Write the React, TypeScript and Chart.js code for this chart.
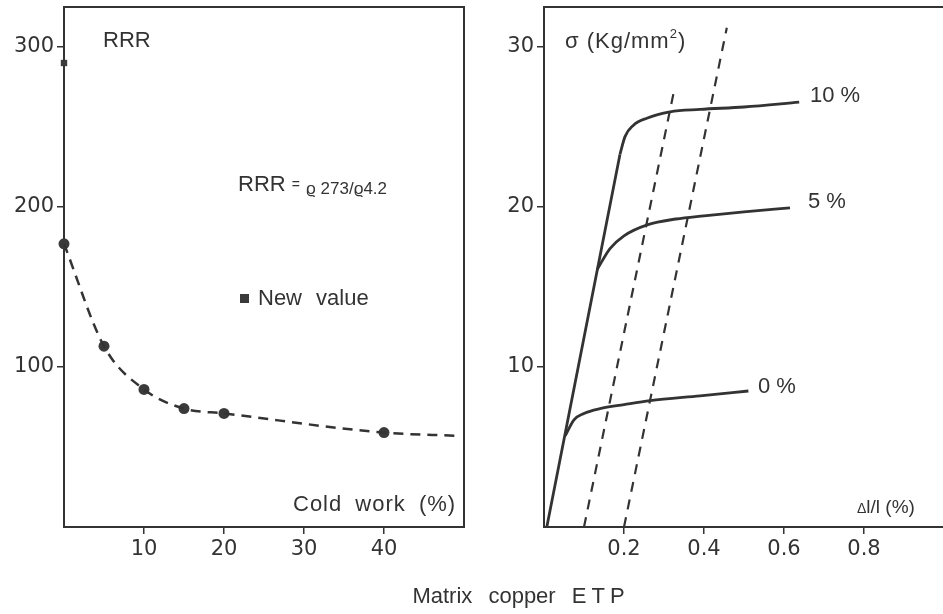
import React, { useEffect, useRef } from "react";
import { Chart, registerables } from "chart.js";

Chart.register(...registerables);

// ---------- Left panel: RRR vs cold work ----------
const coldWork = [0, 5, 10, 15, 20, 40];
const rrrValues = [177, 113, 86, 74, 71, 59];
const fitColdWork = [0, 5, 10, 15, 20, 40, 49];
const fitRrr = [177, 113, 86, 74, 71, 59, 57];
const newValueX = [0];
const newValueY = [290];
const leftXTicks = [10, 20, 30, 40];
const leftYTicks = [100, 200, 300];

// ---------- Right panel: stress vs strain ----------
const elasticX = [0.007, 0.19];
const elasticY = [0, 23.3];
const cw0X = [0.053, 0.075, 0.1, 0.14, 0.2, 0.265, 0.39, 0.511];
const cw0Y = [5.7, 6.7, 7.1, 7.4, 7.65, 7.9, 8.2, 8.5];
const cw5X = [0.133, 0.165, 0.2, 0.26, 0.33, 0.4, 0.5, 0.615];
const cw5Y = [16.1, 17.4, 18.2, 18.9, 19.25, 19.45, 19.7, 19.95];
const cw10X = [0.19, 0.2025, 0.223, 0.257, 0.315, 0.39, 0.5, 0.638];
const cw10Y = [23.3, 24.4, 25.1, 25.55, 25.95, 26.1, 26.25, 26.55];
const offset1X = [0.1, 0.327];
const offset1Y = [0, 27.5];
const offset2X = [0.2, 0.457];
const offset2Y = [0, 31.2];
const rightXTicks = [0.2, 0.4, 0.6, 0.8];
const rightYTicks = [10, 20, 30];

const INK = "#333333";
const FONT = '"Liberation Sans", Arial, Helvetica, sans-serif';
const TICK_FONT = '"DejaVu Sans", "Liberation Sans", sans-serif';

const pts = (xs: number[], ys: number[]) => xs.map((x, i) => ({ x, y: ys[i] }));

const framePlugin = {
  id: "frame",
  beforeDatasetsDraw(chart: any) {
    const { ctx, chartArea: a } = chart;
    ctx.save();
    ctx.strokeStyle = INK;
    ctx.lineWidth = 2;
    ctx.strokeRect(a.left, a.top, a.right - a.left, a.bottom - a.top);
    ctx.restore();
  },
};

function makeScale(min: number, max: number, ticks: number[], isX: boolean, size: number) {
  return {
    type: "linear",
    min,
    max,
    afterBuildTicks: (s: any) => {
      s.ticks = ticks.map((v) => ({ value: v }));
    },
    afterFit: (s: any) => {
      if (isX) {
        s.height = size;
        s.paddingLeft = 0;
        s.paddingRight = 0;
      } else {
        s.width = size;
        s.paddingTop = 0;
        s.paddingBottom = 0;
      }
    },
    grid: {
      display: true,
      drawOnChartArea: false,
      drawTicks: true,
      tickLength: 7,
      color: INK,
      lineWidth: 1.5,
    },
    border: { display: false },
    ticks: {
      color: INK,
      font: { family: TICK_FONT, size: 21 },
      padding: isX ? 3 : 3,
      autoSkip: false,
      maxRotation: 0,
      callback: (v: any) => String(v),
    },
  };
}

function lineDs(xs: number[], ys: number[], width: number, dash: number[] = []) {
  return {
    data: pts(xs, ys),
    showLine: true,
    borderColor: INK,
    backgroundColor: INK,
    borderWidth: width,
    borderDash: dash,
    pointRadius: 0,
    cubicInterpolationMode: "monotone",
    fill: false,
    clip: false,
  };
}

const baseOptions = (x: any, y: any, padding: any) => ({
  responsive: false,
  animation: false,
  devicePixelRatio: 1,
  events: [],
  layout: { padding },
  plugins: { legend: { display: false }, tooltip: { enabled: false } },
  scales: { x, y },
});

const T = ({ x, y, size = 22, style = {}, children }: any) => (
  <div
    style={{
      position: "absolute",
      left: x,
      top: y,
      transform: "translateY(-50%)",
      fontSize: size,
      lineHeight: 1,
      whiteSpace: "nowrap",
      ...style,
    }}
  >
    {children}
  </div>
);

export default function App() {
  const leftRef = useRef<HTMLCanvasElement>(null);
  const rightRef = useRef<HTMLCanvasElement>(null);

  useEffect(() => {
    const left = new Chart(leftRef.current as HTMLCanvasElement, {
      type: "scatter",
      data: {
        datasets: [
          lineDs(fitColdWork, fitRrr, 2.5, [10, 7]),
          {
            data: pts(coldWork, rrrValues),
            showLine: false,
            pointRadius: 5.5,
            pointBackgroundColor: "#3a3a3a",
            pointBorderColor: "#3a3a3a",
            pointBorderWidth: 0,
            clip: false,
          },
          {
            data: pts(newValueX, newValueY),
            showLine: false,
            pointStyle: "rect",
            pointRadius: 4.5,
            pointBackgroundColor: "#3a3a3a",
            pointBorderColor: "#3a3a3a",
            pointBorderWidth: 0,
            clip: false,
          },
        ] as any,
      },
      options: baseOptions(
        makeScale(0, 50, leftXTicks, true, 87),
        makeScale(0, 325, leftYTicks, false, 64),
        { left: 0, top: 7, right: 6, bottom: 0 }
      ) as any,
      plugins: [framePlugin],
    });

    const right = new Chart(rightRef.current as HTMLCanvasElement, {
      type: "scatter",
      data: {
        datasets: [
          lineDs(elasticX, elasticY, 2.8),
          lineDs(cw0X, cw0Y, 2.8),
          lineDs(cw5X, cw5Y, 2.8),
          lineDs(cw10X, cw10Y, 2.8),
          lineDs(offset1X, offset1Y, 2.2, [10, 8]),
          lineDs(offset2X, offset2Y, 2.2, [10, 8]),
        ] as any,
      },
      options: baseOptions(
        makeScale(0, 1.0, rightXTicks, true, 87),
        makeScale(0, 32.5, rightYTicks, false, 74),
        { left: 0, top: 7, right: 6, bottom: 0 }
      ) as any,
      plugins: [framePlugin],
    });

    return () => {
      left.destroy();
      right.destroy();
    };
  }, []);

  return (
    <div
      style={{
        position: "fixed",
        left: 0,
        top: 0,
        width: 943,
        height: 614,
        overflow: "hidden",
        background: "#ffffff",
        fontFamily: FONT,
        color: INK,
      }}
    >
      <canvas ref={leftRef} width={470} height={614} style={{ position: "absolute", left: 0, top: 0 }} />
      <canvas ref={rightRef} width={480} height={614} style={{ position: "absolute", left: 470, top: 0 }} />

      {/* Left panel annotations */}
      <T x={103} y={40}>RRR</T>
      <T x={238} y={184}>
        RRR <span style={{ fontSize: 14, position: "relative", top: -2 }}>=</span>{" "}
        <span style={{ fontSize: 17, position: "relative", top: 3 }}>ϱ 273/ϱ4.2</span>
      </T>
      <div
        style={{ position: "absolute", left: 240, top: 294, width: 9, height: 9, background: "#3a3a3a" }}
      />
      <T x={258} y={298} style={{ wordSpacing: 8 }}>New value</T>
      <T x={293} y={504} style={{ letterSpacing: 1, wordSpacing: 6 }}>Cold work (%)</T>

      {/* Right panel annotations */}
      <T x={565} y={41} style={{ letterSpacing: 1 }}>
        σ (Kg/mm<sup style={{ fontSize: 13, verticalAlign: "top", position: "relative", top: -3 }}>2</sup>)
      </T>
      <T x={810} y={95}>10 %</T>
      <T x={808} y={201}>5 %</T>
      <T x={758} y={386}>0 %</T>
      <T x={857} y={506} size={19}>
        <span style={{ fontSize: 14 }}>Δ</span>l/l (%)
      </T>

      {/* Caption */}
      <T x={521} y={596} style={{ transform: "translate(-50%, -50%)", wordSpacing: 10 }}>
        Matrix copper <span style={{ letterSpacing: 5 }}>ETP</span>
      </T>
    </div>
  );
}
